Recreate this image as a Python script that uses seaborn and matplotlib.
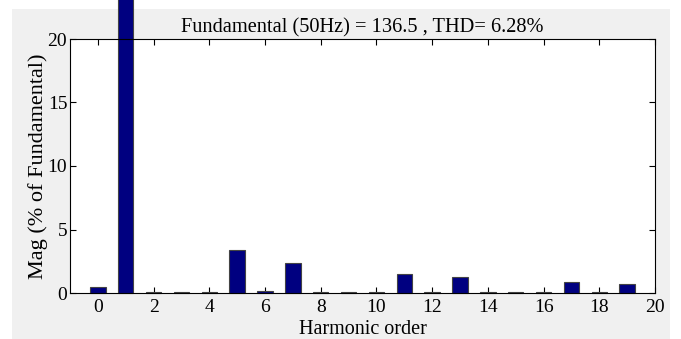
import matplotlib
matplotlib.use("Agg")
import matplotlib.pyplot as plt
import seaborn as sns
import pandas as pd
from matplotlib.patches import Rectangle

# Data
harmonic_order = list(range(0, 20))
magnitude = [0.45, 100.0, 0.08, 0.06, 0.08, 3.4, 0.15, 2.4, 0.08, 0.06,
             0.08, 1.5, 0.08, 1.26, 0.08, 0.06, 0.08, 0.87, 0.08, 0.73]
x_ticks = list(range(0, 21, 2))
y_ticks = [0, 5, 10, 15, 20]
title_text = "Fundamental (50Hz) = 136.5 , THD= 6.28%"

df = pd.DataFrame({"order": harmonic_order, "mag": magnitude})

sns.set_style("ticks")
plt.rcParams["font.family"] = ["Liberation Serif", "DejaVu Serif"]
plt.rcParams["text.color"] = "black"
plt.rcParams["axes.labelcolor"] = "black"

fig = plt.figure(figsize=(6.81, 3.39), dpi=100)
fig.patch.set_facecolor("white")
fig.patches.append(Rectangle((12 / 681, 0), (670 - 12) / 681, (339 - 9) / 339,
                             transform=fig.transFigure, facecolor="#f0f0f0",
                             edgecolor="none", zorder=-10))
ax = fig.add_axes([70 / 681, 46 / 339, 585 / 681, 254 / 339])
ax.set_facecolor("white")

sns.barplot(data=df, x="order", y="mag", native_scale=True, width=0.55,
            color="#000080", edgecolor="#444444", linewidth=0.8,
            saturation=1, ax=ax)
for p in ax.patches:
    p.set_clip_on(False)

ax.set_xlim(-1, 20)
ax.set_ylim(0, 20)
ax.set_xticks(x_ticks)
ax.set_yticks(y_ticks)
ax.tick_params(direction="in", top=True, right=True, length=4, width=0.8,
               labelsize=14, colors="black")
ax.tick_params(axis="x", pad=4.5)
ax.tick_params(axis="y", pad=2)
for s in ax.spines.values():
    s.set_visible(True)
    s.set_color("black")
    s.set_linewidth(0.8)

ax.set_xlabel("Harmonic order", fontsize=14.5, labelpad=2.5, color="black")
ax.set_ylabel("Mag (% of Fundamental)", fontsize=16, labelpad=-0.5, color="black")
ax.set_title(title_text, fontsize=14.7, pad=5, color="black")

fig.savefig("out.png", dpi=100, facecolor=fig.get_facecolor())
